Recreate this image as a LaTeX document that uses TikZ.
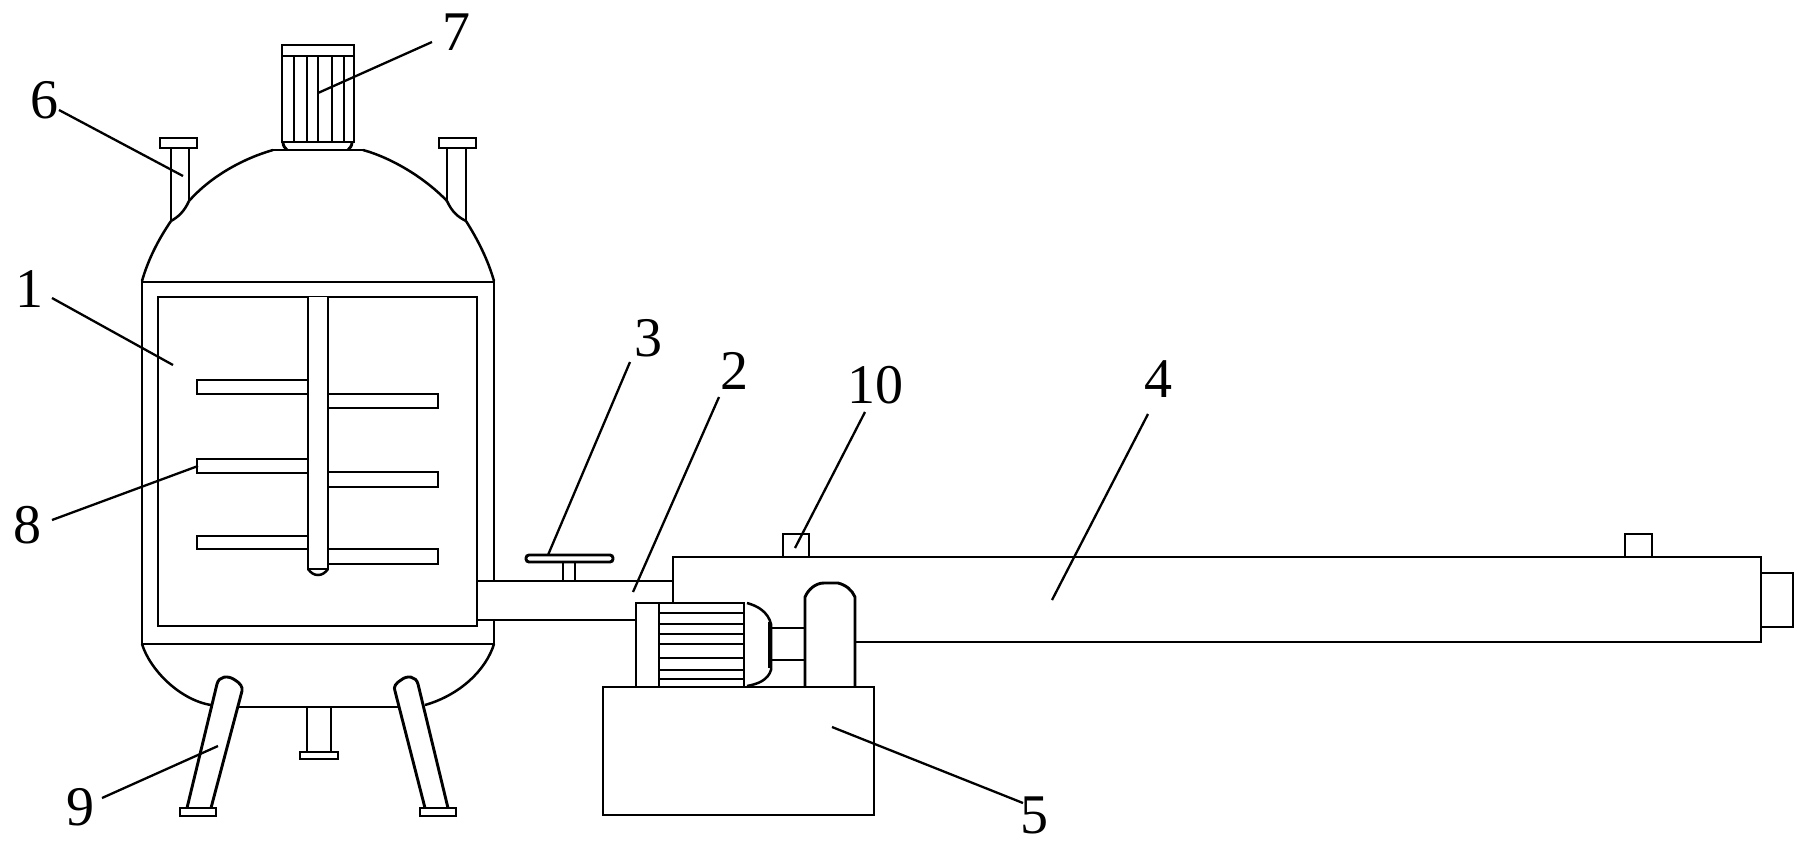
\documentclass[tikz,border=0pt]{standalone}
\usepackage{fontspec}
\setmainfont{Liberation Serif}
\tikzset{
  part/.style={draw=black,line width=2.9pt,line join=miter},
  thinpart/.style={draw=black,line width=2.5pt,line join=round},
  leader/.style={draw=black,line width=2.3pt},
  num/.style={font=\fontsize{56}{56}\selectfont,anchor=base,inner sep=0pt,text=black}
}
\begin{document}
\begin{tikzpicture}[x=1pt,y=-1pt]
\useasboundingbox[fill=white] (0,0) rectangle (1803,847);
% top dome
\draw[thinpart] (273,150) .. controls (245,158) and (212,175) .. (189,201);
\draw[thinpart] (189,201) .. controls (184,212) and (178,217) .. (171,221);
\draw[thinpart] (171,221) .. controls (158,240) and (148,260) .. (142,281);
\draw[thinpart] (363,150) .. controls (392,158) and (425,178) .. (447,201);
\draw[thinpart] (447,201) .. controls (452,212) and (458,217) .. (466,221);
\draw[thinpart] (466,221) .. controls (478,240) and (488,260) .. (494,281);
\draw[part] (273,150) -- (363,150);
% nozzles
\draw[part] (171,221) -- (171,148) (189,201) -- (189,148);
\draw[part] (160,138) rectangle (197,148);
\draw[part] (447,201) -- (447,148) (466,221) -- (466,148);
\draw[part] (439,138) rectangle (476,148);
% top motor
\draw[part] (282,45) rectangle (354,142);
\draw[part] (282,56) -- (354,56);
\foreach \x in {294,307,318,332,344} \draw[part] (\x,56) -- (\x,142);
\draw[part] (283,142) .. controls (283,146) and (285,148) .. (287,150);
\draw[part] (352,142) .. controls (352,146) and (350,148) .. (348,150);
% vessel body
\draw[part] (494,581) -- (494,282) -- (142,282) -- (142,644) -- (494,644) -- (494,620);
\draw[part] (158,297) rectangle (477,626);
% shaft and paddles
\draw[part] (197,380) rectangle (308,394);
\draw[part] (197,459) rectangle (308,473);
\draw[part] (197,536) rectangle (308,549);
\draw[part] (328,394) rectangle (438,408);
\draw[part] (328,472) rectangle (438,487);
\draw[part] (328,549) rectangle (438,564);
\draw[part,fill=white] (308,297) -- (308,569) -- (328,569) -- (328,297);
\draw[thinpart] (308,569) .. controls (311,573) and (314,575) .. (318,575) .. controls (322,575) and (325,573) .. (328,569);
% bottom dome
\draw[thinpart] (142,644) .. controls (150,670) and (180,700) .. (211,705);
\draw[thinpart] (494,644) .. controls (486,670) and (460,695) .. (425,705);
\draw[part] (237,707) -- (400,707);
% drain
\draw[part] (307,707) -- (307,752) (331,707) -- (331,752);
\draw[part] (300,752) rectangle (338,759);
% legs
\draw[part,line join=round] (187,808) -- (217,684) .. controls (219,676) and (228,675) .. (235,680) .. controls (240,683) and (243,687) .. (242,691) -- (211,808);
\draw[part] (180,808) rectangle (216,816);
\draw[part,line join=round] (448,808) -- (418,684) .. controls (416,676) and (407,675) .. (401,680) .. controls (396,683) and (393,687) .. (395,691) -- (425,808);
\draw[part] (420,808) rectangle (456,816);
% pipe and valve
\draw[part] (477,581) -- (673,581);
\draw[part] (477,620) -- (636,620);
\draw[part] (563,581) -- (563,562) (575,581) -- (575,562);
\draw[part,rounded corners=3pt] (526,555) rectangle (613,562);
% long tube
\draw[part] (673,603) -- (673,557) -- (1761,557) -- (1761,642) -- (855,642);
\draw[part] (1761,573) -- (1793,573) -- (1793,627) -- (1761,627);
\draw[part] (783,557) -- (783,534) -- (809,534) -- (809,557);
\draw[part] (1625,557) -- (1625,534) -- (1652,534) -- (1652,557);
% pump motor
\draw[part] (636,687) -- (636,603) -- (744,603) -- (744,687);
\draw[part] (659,603) -- (659,687);
\foreach \y in {613,624,634,644,658,670,679} \draw[part] (659,\y) -- (744,\y);
\draw[thinpart] (747,603) .. controls (758,606) and (768,612) .. (771,624) -- (771,670) .. controls (768,680) and (758,684) .. (747,686);
\draw[part] (769,622) -- (769,668);
% coupling and pump
\draw[part] (771,628) -- (805,628) (771,660) -- (805,660);
\draw[part,line join=round] (805,687) -- (805,597) .. controls (808,590) and (815,583) .. (824,583) -- (838,583) .. controls (846,585) and (852,590) .. (855,597) -- (855,687);
% box 5
\draw[part] (603,687) rectangle (874,815);
% labels
\node[num] (n1) at (29,307) {1};
\node[num] (n2) at (734,389) {2};
\node[num] (n3) at (648,356) {3};
\node[num] (n4) at (1158,397) {4};
\node[num] (n5) at (1034,833) {5};
\node[num] (n6) at (44,118) {6};
\node[num] (n7) at (456,50) {7};
\node[num] (n8) at (27,543) {8};
\node[num] (n9) at (80,825) {9};
\node[num] (n10) at (875,403) {10};
% leader ends
\coordinate (a1) at (52,298); \coordinate (b1) at (173,365);
\coordinate (a2) at (719,397); \coordinate (b2) at (633,592);
\coordinate (a3) at (630,362); \coordinate (b3) at (548,555);
\coordinate (a4) at (1148,414); \coordinate (b4) at (1052,600);
\coordinate (a5) at (1023,803); \coordinate (b5) at (832,727);
\coordinate (a6) at (59,110); \coordinate (b6) at (183,176);
\coordinate (a7) at (432,42); \coordinate (b7) at (318,93);
\coordinate (a8) at (52,520); \coordinate (b8) at (198,466);
\coordinate (a9) at (102,798); \coordinate (b9) at (218,746);
\coordinate (a10) at (865,412); \coordinate (b10) at (795,548);
\foreach \i in {1,...,10} \draw[leader] (a\i) -- (b\i);
\end{tikzpicture}
\end{document}
